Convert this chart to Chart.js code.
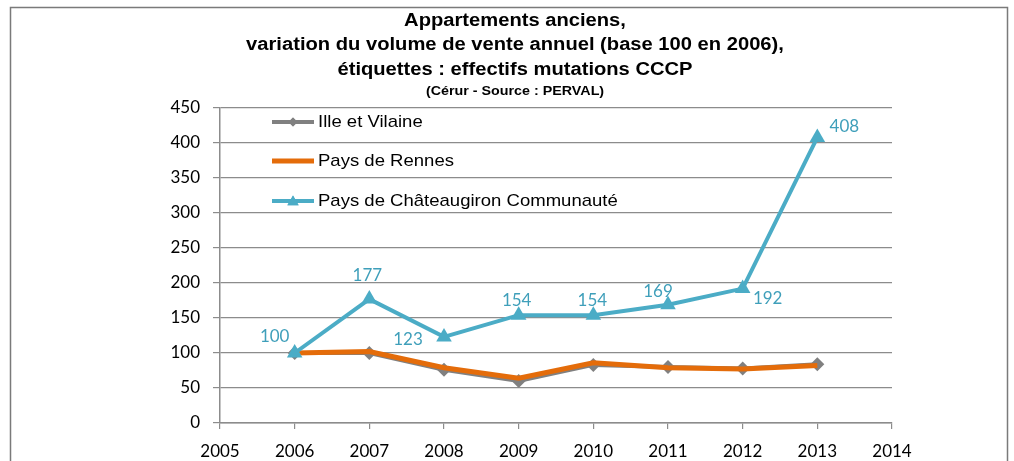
<!DOCTYPE html>
<html>
<head>
<meta charset="utf-8">
<script src="https://cdn.jsdelivr.net/npm/chart.js@4.4.1/dist/chart.umd.min.js"></script>
<style>
  html, body { margin: 0; padding: 0; background: #fff; }
  #wrap { width: 1014px; height: 461px; }
</style>
</head>
<body>
<div id="wrap"><canvas id="venteChart"></canvas></div>
<script>
// Years and index values (base 100 en 2006)
const years = [2006, 2007, 2008, 2009, 2010, 2011, 2012, 2013];
const illeEtVilaine = [100, 100, 76, 60, 83, 80, 78, 84];
const paysDeRennes = [100, 102, 79, 64, 86, 79, 77, 82];
const chateaugiron = [100, 177, 123, 154, 154, 169, 192, 408];
// Labels shown on the Châteaugiron line (effectifs mutations CCCP)
const chateaugironLabels = ["100", "177", "123", "154", "154", "169", "192", "408"];

const seriesNames = ["Ille et Vilaine", "Pays de Rennes", "Pays de Châteaugiron Communauté"];
const titleLines = [
    "Appartements anciens,",
    "variation du volume de vente annuel (base 100 en 2006),",
    "étiquettes : effectifs mutations CCCP"
];
const subTitle = "(Cérur - Source : PERVAL)";

// where each data label sits relative to its point (px)
const labelOffsets = [[-20, -16], [-2, -24], [-36, 3], [-2, -15], [-1, -15], [-10, -13], [25, 10], [27, -11]];

const GRAY = "#808080";
const ORANGE = "#E46C0A";
const BLUE = "#4BACC6";
const GRID = "#8c8c8c";
const TICK_FONT = { family: "Lato", size: 17 };

function pts(values) {
    return years.map((y, i) => ({ x: y, y: values[i] }));
}

// text drawn a little wider than the font, like the original picture
function wideText(c, text, x, y, sx) {
    c.save();
    c.translate(x, y);
    c.scale(sx, 1);
    c.fillText(text, 0, 0);
    c.restore();
}

// Frame + title
const framePlugin = {
    id: "frame",
    beforeDraw(chart) {
        const c = chart.ctx;
        c.save();
        c.fillStyle = "#fff";
        c.fillRect(0, 0, chart.width, chart.height);
        c.strokeStyle = "#7a7a7a";
        c.lineWidth = 1.5;
        c.strokeRect(10.5, 7.5, 997, 480);
        c.fillStyle = "#000";
        c.textAlign = "center";
        c.textBaseline = "middle";
        c.font = "bold 18px 'Liberation Sans', Arial, sans-serif";
        titleLines.forEach((t, i) => wideText(c, t, 515, 21 + i * 24.5, 1.12));
        c.font = "bold 13px 'Liberation Sans', Arial, sans-serif";
        wideText(c, subTitle, 515, 91, 1.1);
        c.restore();
    }
};

// Data labels + legend inside the plot
const overlayPlugin = {
    id: "overlay",
    afterDatasetsDraw(chart) {
        const c = chart.ctx;
        c.save();
        // labels
        const meta = chart.getDatasetMeta(2);
        c.font = "17px Lato";
        c.fillStyle = "#3f9fba";
        c.textAlign = "center";
        c.textBaseline = "middle";
        meta.data.forEach((p, i) => {
            const off = labelOffsets[i];
            c.fillText(chateaugironLabels[i], p.x + off[0], p.y + off[1]);
        });

        // legend
        const rows = [122, 161, 201];
        chart.data.datasets.forEach((ds, i) => {
            const y = rows[i];
            c.strokeStyle = ds.borderColor;
            c.lineWidth = ds.borderWidth;
            c.lineCap = "butt";
            c.beginPath();
            c.moveTo(272, y);
            c.lineTo(314, y);
            c.stroke();
            if (ds.pointStyle !== false) {
                const tri = ds.pointStyle === "triangle";
                c.fillStyle = ds.backgroundColor;
                Chart.helpers.drawPoint(c, {
                    pointStyle: ds.pointStyle,
                    radius: tri ? 6.5 : 4.5,
                    borderWidth: 0
                }, 293, y + (tri ? 1 : 0));
                c.fill();
            }
            c.fillStyle = "#000";
            c.textAlign = "left";
            c.font = "17px 'Liberation Sans', Arial, sans-serif";
            wideText(c, ds.label, 318, y, 1.09);
        });
        c.restore();
    }
};

new Chart(document.getElementById("venteChart"), {
    type: "line",
    data: {
        datasets: [
            {
                label: seriesNames[0],
                data: pts(illeEtVilaine),
                borderColor: GRAY,
                backgroundColor: GRAY,
                borderWidth: 4,
                pointStyle: "rectRot",
                pointRadius: 7,
                pointBorderWidth: 0,
                order: 3
            },
            {
                label: seriesNames[1],
                data: pts(paysDeRennes),
                borderColor: ORANGE,
                backgroundColor: ORANGE,
                borderWidth: 5,
                pointStyle: false,
                pointRadius: 0,
                order: 2
            },
            {
                label: seriesNames[2],
                data: pts(chateaugiron),
                borderColor: BLUE,
                backgroundColor: BLUE,
                borderWidth: 4,
                pointStyle: "triangle",
                pointRadius: 9,
                pointBorderWidth: 0,
                order: 1
            }
        ]
    },
    options: {
        responsive: true,
        maintainAspectRatio: false,
        animation: false,
        layout: { padding: { left: 0, right: 122, top: 108, bottom: 0 } },
        plugins: {
            legend: { display: false },
            title: { display: false },
            tooltip: { enabled: false }
        },
        elements: { line: { tension: 0 } },
        scales: {
            x: {
                type: "linear",
                min: 2005,
                max: 2014,
                ticks: { stepSize: 1, color: "#000", font: TICK_FONT, padding: 12, maxRotation: 0,
                         callback: v => String(v) },
                grid: { drawOnChartArea: false, color: GRID, tickLength: 6, lineWidth: 1.2 },
                border: { color: GRID, width: 1.5 },
                afterFit: s => { s.height = 38; }
            },
            y: {
                min: 0,
                max: 450,
                ticks: { stepSize: 50, color: "#000", font: TICK_FONT, padding: 13 },
                grid: { color: GRID, tickLength: 7, lineWidth: 1.2 },
                border: { color: GRID, width: 1.5 },
                afterFit: s => { s.width = 220; }
            }
        }
    },
    plugins: [framePlugin, overlayPlugin]
});
</script>
</body>
</html>
